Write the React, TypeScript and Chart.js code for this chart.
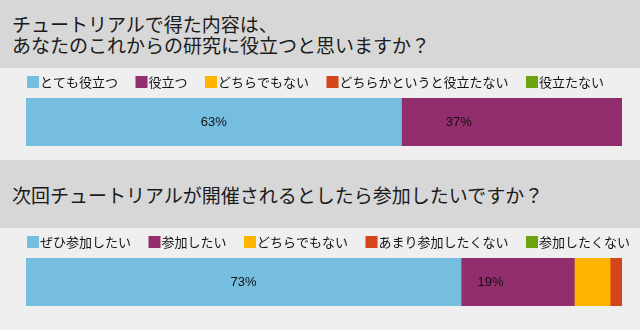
import React, { useEffect, useRef } from "react";
import { Chart, registerables } from "chart.js";

Chart.register(...registerables);

const q1Title = ["チュートリアルで得た内容は、", "あなたのこれからの研究に役立つと思いますか？"];
const q1Categories = ["とても役立つ", "役立つ", "どちらでもない", "どちらかというと役立たない", "役立たない"];
const q1Values = [63, 37, 0, 0, 0];

const q2Title = ["次回チュートリアルが開催されるとしたら参加したいですか？"];
const q2Categories = ["ぜひ参加したい", "参加したい", "どちらでもない", "あまり参加したくない", "参加したくない"];
const q2Values = [73, 19, 6, 2, 0];

const colors = ["#75bee0", "#932e6e", "#ffb400", "#d2461a", "#6aa40f"];

const labelPlugin = {
  id: "segLabels",
  afterDatasetsDraw(chart: any) {
    const ctx = chart.ctx;
    ctx.save();
    ctx.fillStyle = "#111";
    ctx.font = "13px 'Liberation Sans Narrow', 'Liberation Sans', Arial, sans-serif";
    ctx.textAlign = "center";
    ctx.textBaseline = "middle";
    chart.data.datasets.forEach((ds: any, di: number) => {
      const meta = chart.getDatasetMeta(di);
      meta.data.forEach((el: any, i: number) => {
        const v = ds.data[i];
        if (v < 10) return;
        const frac = di === 0 ? 0.5 : 0.26;
        const x = el.base + (el.x - el.base) * frac;
        ctx.fillText(v + "%", x, el.y);
      });
    });
    ctx.restore();
  },
};

const legendPlugin = {
  id: "leftLegend",
  afterDraw(chart: any) {
    const ctx = chart.ctx;
    const box = 12;
    const gap = 17.5;
    let x = chart.chartArea.left + 1;
    const y = 8;
    ctx.save();
    ctx.font = "13px 'Noto Sans CJK JP', sans-serif";
    ctx.textBaseline = "middle";
    ctx.textAlign = "left";
    chart.data.datasets.forEach((ds: any) => {
      ctx.fillStyle = ds.backgroundColor;
      ctx.fillRect(x, y, box, box);
      ctx.fillStyle = "#111";
      ctx.fillText(ds.label, x + box + 1, y + box / 2 + 0.5);
      x += box + 1 + ctx.measureText(ds.label).width + gap;
    });
    ctx.restore();
  },
};

function BarPanel({ categories, values, height }: { categories: string[]; values: number[]; height: number }) {
  const ref = useRef<HTMLCanvasElement>(null);
  useEffect(() => {
    if (!ref.current) return;
    const chart = new Chart(ref.current, {
      type: "bar",
      data: {
        labels: [""],
        datasets: categories.map((c, i) => ({
          label: c,
          data: [values[i]],
          backgroundColor: colors[i],
          borderWidth: 0,
          barPercentage: 1,
          categoryPercentage: 1,
        })),
      },
      options: {
        indexAxis: "y",
        responsive: false,
        animation: false,
        layout: { padding: { top: 30, bottom: height - 78, left: 26, right: 18 } },
        scales: {
          x: { stacked: true, min: 0, max: 100, display: false },
          y: { stacked: true, display: false },
        },
        plugins: {
          tooltip: { enabled: false },
          legend: { display: false },
        },
      } as any,
      plugins: [labelPlugin, legendPlugin],
    });
    return () => chart.destroy();
  }, []);
  return <canvas ref={ref} width={640} height={height} style={{ display: "block" }} />;
}

function Header({ lines }: { lines: string[] }) {
  return (
    <div
      style={{
        height: 68,
        background: "#d7d7d7",
        display: "flex",
        flexDirection: "column",
        justifyContent: "center",
        paddingLeft: 12,
        boxSizing: "border-box",
        fontFamily: "'Noto Sans CJK JP', sans-serif",
        fontSize: 19,
        lineHeight: "21px",
        color: "#1a1a1a",
        fontWeight: 400,
      }}
    >
      {lines.map((l, i) => (
        <div key={i}>{l}</div>
      ))}
    </div>
  );
}

export default function App() {
  return (
    <div style={{ position: "absolute", left: 0, top: 0, width: 640, height: 330, background: "#efefef", overflow: "hidden" }}>
      <Header lines={q1Title} />
      <div style={{ height: 92, background: "#efefef" }}>
        <BarPanel categories={q1Categories} values={q1Values} height={92} />
      </div>
      <Header lines={q2Title} />
      <div style={{ height: 102, background: "#efefef" }}>
        <BarPanel categories={q2Categories} values={q2Values} height={102} />
      </div>
    </div>
  );
}
